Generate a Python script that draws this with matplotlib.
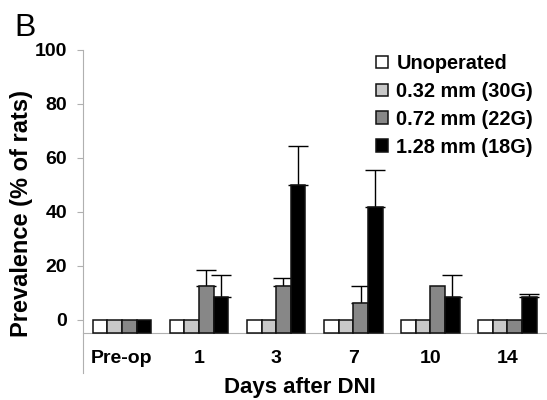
import numpy as np
import matplotlib
matplotlib.use("Agg")
from matplotlib import pyplot as plt

plt.rcParams['font.family'] = ['Liberation Sans', 'DejaVu Sans']

# data
days = ["Pre-op", "1", "3", "7", "10", "14"]
groups = ["Unoperated", "0.32 mm (30G)", "0.72 mm (22G)", "1.28 mm (18G)"]
colors = ["#ffffff", "#c8c8c8", "#878787", "#000000"]

unoperated = [0, 0, 0, 0, 0, 0]
g30 = [0, 0, 0, 0, 0, 0]
g22 = [0, 12.5, 12.5, 6.25, 12.5, 0]
g18 = [0, 8.3, 50, 41.7, 8.3, 8.3]

err_g22 = [0, 6.0, 3.0, 6.0, 0, 0]
err_g18 = [0, 8.3, 14.2, 13.9, 8.3, 1.2]

values = [unoperated, g30, g22, g18]
errors = [None, None, err_g22, err_g18]

base = -5  # bars start below zero, on the drawn axis line

fig = plt.figure(figsize=(5.47, 4.0), dpi=100)
ax = fig.add_axes([0.1517, 0.0665, 0.8464, 0.8085])

x = np.arange(len(days))
w = 0.19
for i, (vals, col) in enumerate(zip(values, colors)):
    pos = x + (i - 1.5) * w
    h = np.array(vals) - base
    ax.bar(pos, h, width=w, bottom=base, color=col, edgecolor="#111111",
           linewidth=1.1, label=groups[i], zorder=3)
    if errors[i] is not None:
        err = np.array(errors[i])
        m = err > 0
        ax.errorbar(pos[m], np.array(vals)[m], yerr=[np.zeros(m.sum()), err[m]],
                    fmt="none", ecolor="black", elinewidth=1.0, capsize=7,
                    capthick=1.0, zorder=2)

ax.set_ylim(-20, 100)
ax.set_xlim(-0.506, 5.5)
ax.set_yticks([0, 20, 40, 60, 80, 100])
ax.set_xticks(x)
ax.set_xticklabels(days)

for s in ["top", "right"]:
    ax.spines[s].set_visible(False)
ax.spines["left"].set_color("#b0b0b0")
ax.spines["bottom"].set_color("#b0b0b0")
ax.spines["bottom"].set_position(("data", base))
ax.tick_params(axis="y", colors="#b0b0b0", length=4.3, labelcolor="black",
               labelsize=14, pad=7)
ax.tick_params(axis="x", length=0, labelsize=14, pad=12)
for t in ax.get_xticklabels() + ax.get_yticklabels():
    t.set_fontweight("bold")

ax.set_ylabel("Prevalence (% of rats)", fontsize=17, fontweight="bold")
ax.yaxis.set_label_coords(-0.108, 0.493)
fig.text(300 / 547, 0.0175, "Days after DNI", fontsize=16, fontweight="bold",
         ha="center", va="baseline")
fig.text(0.027, 0.91, "B", fontsize=23, ha="left", va="baseline")

ax.legend(loc="upper left", bbox_to_anchor=(376 / 547, 1 - 54 / 400),
          bbox_transform=fig.transFigure, frameon=False, borderpad=0,
          borderaxespad=0, handlelength=0.62, handleheight=0.62,
          handletextpad=0.4, labelspacing=0.45,
          prop={"size": 14.3, "weight": "bold"})

plt.savefig("out.png", dpi=100)
